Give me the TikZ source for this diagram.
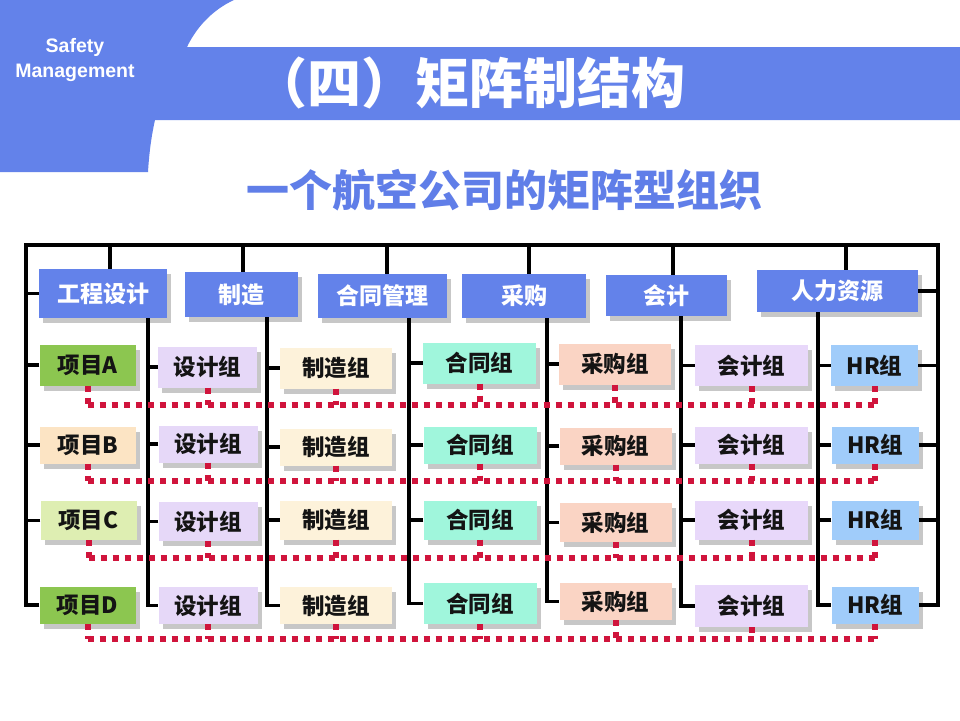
\documentclass[tikz,border=0pt]{standalone}
\usepackage{fontspec}
\setmainfont{Noto Sans CJK SC}
\newfontfamily\latinsans{Liberation Sans}
\usetikzlibrary{shadows}
\definecolor{hdrblue}{RGB}{99,130,234}
\definecolor{subblue}{RGB}{96,126,232}
\definecolor{greenA}{RGB}{140,198,80}
\definecolor{peachB}{RGB}{252,228,196}
\definecolor{paleC}{RGB}{222,238,178}
\definecolor{designc}{RGB}{230,216,248}
\definecolor{manufc}{RGB}{253,242,218}
\definecolor{contractc}{RGB}{160,246,220}
\definecolor{purchc}{RGB}{250,212,196}
\definecolor{acctc}{RGB}{232,216,250}
\definecolor{hrc}{RGB}{160,204,250}
\definecolor{dotred}{RGB}{208,20,60}
\definecolor{txtdark}{RGB}{20,20,20}
\begin{document}
\begin{tikzpicture}[x=1pt,y=-1pt,
  box/.style={rectangle, inner sep=0pt, text=txtdark,
    font=\fontsize{22.5}{22.5}\selectfont\bfseries,
    drop shadow={shadow xshift=4pt, shadow yshift=-5pt, fill=black!22, opacity=1}},
  dept/.style={box, fill=hdrblue, text=white, font=\fontsize{23}{23}\selectfont\bfseries},
  frame/.style={line width=3.5pt, black},
  reddot/.style={line width=6pt, dotred, dash pattern=on 6pt off 6pt},
  c0/.style={minimum width=96pt},
  c1/.style={minimum width=99pt, fill=designc},
  c2/.style={minimum width=112pt, fill=manufc},
  c3/.style={minimum width=113pt, fill=contractc},
  c4/.style={minimum width=112pt, fill=purchc},
  c5/.style={minimum width=113pt, fill=acctc},
  c6/.style={minimum width=87pt, fill=hrc},
  rowA/.style={minimum height=41pt},
  rowB/.style={minimum height=37pt},
  rowC/.style={minimum height=39pt},
  rowD/.style={minimum height=37pt}
]
\useasboundingbox (0,0) rectangle (960,720);
\fill[white] (0,0) rectangle (960,720);

% header
\fill[hdrblue] (0,0) -- (234,0) .. controls (212,10) and (196,28) .. (187,47)
  -- (960,47) -- (960,120) -- (155,120) .. controls (151,138) and (149,155) .. (148,172)
  -- (0,172) -- cycle;
\node[text=white, font=\latinsans\bfseries\fontsize{19.5}{25}\selectfont, align=center] (sm) at (75,60) {Safety\\Management};
\node[text=white, inner sep=0pt, font=\fontsize{54}{54}\selectfont\bfseries] (title) at (469,83) {（四）矩阵制结构};
\node[text=subblue, inner sep=0pt, font=\fontsize{43}{43}\selectfont\bfseries] (sub) at (504,190) {一个航空公司的矩阵型组织};

% departments
\node[dept, minimum width=128pt, minimum height=49pt] (d0) at (103,293.5) {工程设计};
\node[dept, minimum width=113pt, minimum height=45pt] (d1) at (241.5,294.5) {制造};
\node[dept, minimum width=129pt, minimum height=44pt] (d2) at (382.5,296) {合同管理};
\node[dept, minimum width=124pt, minimum height=44pt] (d3) at (524,296) {采购};
\node[dept, minimum width=121pt, minimum height=41pt] (d4) at (666.5,295.5) {会计};
\node[dept, minimum width=161pt, minimum height=42pt] (d5) at (837.5,291) {人力资源};

% row A
\node[box, c0, rowA, fill=greenA] (g0A) at (87.5,365) {项目A};
\node[box, c1, rowA] (g1A) at (207.5,367) {设计组};
\node[box, c2, rowA] (g2A) at (336,368) {制造组};
\node[box, c3, rowA] (g3A) at (479.5,363) {合同组};
\node[box, c4, rowA] (g4A) at (615,364) {采购组};
\node[box, c5, rowA] (g5A) at (751.5,365.5) {会计组};
\node[box, c6, rowA] (g6A) at (874.5,365.5) {HR组};
% row B
\node[box, c0, rowB, fill=peachB] (g0B) at (88,445) {项目B};
\node[box, c1, rowB] (g1B) at (208,444) {设计组};
\node[box, c2, rowB] (g2B) at (336,447) {制造组};
\node[box, c3, rowB] (g3B) at (480,445) {合同组};
\node[box, c4, rowB] (g4B) at (615.5,446) {采购组};
\node[box, c5, rowB] (g5B) at (751.5,445) {会计组};
\node[box, c6, rowB] (g6B) at (875,445) {HR组};
% row C
\node[box, c0, rowC, fill=paleC] (g0C) at (88.5,520.5) {项目C};
\node[box, c1, rowC] (g1C) at (208,521.5) {设计组};
\node[box, c2, rowC] (g2C) at (336,520) {制造组};
\node[box, c3, rowC] (g3C) at (480,520) {合同组};
\node[box, c4, rowC] (g4C) at (615.5,522.5) {采购组};
\node[box, c5, rowC] (g5C) at (751.5,520) {会计组};
\node[box, c6, rowC] (g6C) at (875,520) {HR组};
% row D
\node[box, c0, rowD, fill=greenA] (g0D) at (87.5,605) {项目D};
\node[box, c1, rowD] (g1D) at (208,605.5) {设计组};
\node[box, c2, rowD] (g2D) at (336,605.5) {制造组};
\node[box, c3, rowD, minimum height=41pt] (g3D) at (480,603.5) {合同组};
\node[box, c4, rowD] (g4D) at (615.5,601.5) {采购组};
\node[box, c5, rowD, minimum height=42pt] (g5D) at (751.5,606) {会计组};
\node[box, c6, rowD] (g6D) at (875,605) {HR组};

% frame
\coordinate (tl) at (26,245);
\coordinate (tr) at (938,245);
\draw[frame] (g0D.west) -| (tl) -- (tr) |- (g6D.east);
\draw[frame] ([xshift=7pt]d0.north) -- ([xshift=7pt]d0.north |- tl);
\draw[frame] ([xshift=1.5pt]d1.north) -- ([xshift=1.5pt]d1.north |- tl);
\draw[frame] ([xshift=4.5pt]d2.north) -- ([xshift=4.5pt]d2.north |- tl);
\draw[frame] ([xshift=5pt]d3.north) -- ([xshift=5pt]d3.north |- tl);
\draw[frame] ([xshift=6.5pt]d4.north) -- ([xshift=6.5pt]d4.north |- tl);
\draw[frame] ([xshift=8.5pt]d5.north) -- ([xshift=8.5pt]d5.north |- tl);
\draw[frame] (d0.west) -- (d0.west -| tl);
\draw[frame] (d5.east) -- (d5.east -| tr);
\foreach \r in {A,B,C} {
  \draw[frame] (g0\r.west) -- (g0\r.west -| tl);
  \draw[frame] (g6\r.east) -- (g6\r.east -| tr);
}
% verticals under departments
\coordinate (v0) at (148,0);
\coordinate (v1) at (267,0);
\coordinate (v2) at (409,0);
\coordinate (v3) at (547,0);
\coordinate (v4) at (681,0);
\coordinate (v5) at (818,0);
\draw[frame] (d0.south -| v0) |- (g1D.west);
\draw[frame] (d1.south -| v1) |- (g2D.west);
\draw[frame] (d2.south -| v2) |- (g3D.west);
\draw[frame] (d3.south -| v3) |- (g4D.west);
\draw[frame] (d4.south -| v4) |- (g5D.west);
\draw[frame] (d5.south -| v5) |- (g6D.west);
\foreach \r in {A,B,C} {
  \draw[frame] (g1\r.west) -- (g1\r.west -| v0);
  \draw[frame] (g2\r.west) -- (g2\r.west -| v1);
  \draw[frame] (g3\r.west) -- (g3\r.west -| v2);
  \draw[frame] (g4\r.west) -- (g4\r.west -| v3);
  \draw[frame] (g5\r.west) -- (g5\r.west -| v4);
  \draw[frame] (g6\r.west) -- (g6\r.west -| v5);
}

% red dotted project links
\coordinate (rA) at (0,405);
\coordinate (rB) at (0,481);
\coordinate (rC) at (0,558);
\coordinate (rD) at (0,639);
\foreach \r in {A,B,C,D} {
  \draw[reddot] (g0\r.south |- r\r) -- (g6\r.south |- r\r);
  \foreach \c in {0,...,6} {
    \draw[reddot] (g\c\r.south) -- (g\c\r.south |- r\r);
  }
}
\end{tikzpicture}
\end{document}
